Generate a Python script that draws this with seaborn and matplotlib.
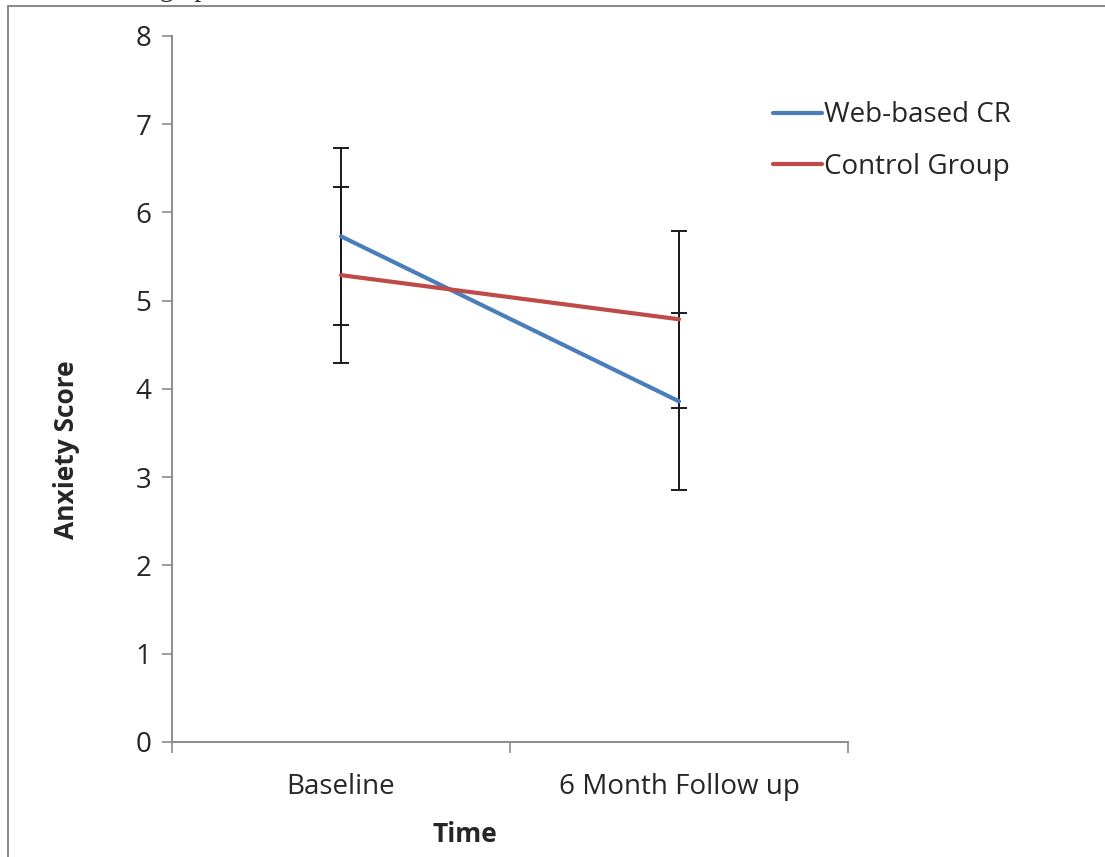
import numpy as np
import pandas as pd
import matplotlib
matplotlib.use("Agg")
import matplotlib.pyplot as plt
import seaborn as sns
from matplotlib.lines import Line2D

# data
time_points = ["Baseline", "6 Month Follow up"]
web_cr_mean = [5.73, 3.86]
web_cr_err = [1.0, 1.0]
control_mean = [5.29, 4.79]
control_err = [1.0, 1.0]
group_names = ["Web-based CR", "Control Group"]
group_colors = ["#4A7EBB", "#BE4B48"]

sns.set_style("white")
plt.rcParams['font.family'] = ['Open Sans', 'DejaVu Sans']

df = pd.DataFrame({
    "Time": time_points * 2,
    "Score": web_cr_mean + control_mean,
    "Err": web_cr_err + control_err,
    "Group": [group_names[0]] * 2 + [group_names[1]] * 2,
})

fig = plt.figure(figsize=(11.05, 8.57), dpi=100)
ax = fig.add_axes([0.1557, 0.1342, 0.6117, 0.8238])

# error bars first so lines sit on top
for g in group_names:
    sub = df[df["Group"] == g]
    ax.errorbar(sub["Time"], sub["Score"], yerr=sub["Err"], fmt="none",
                ecolor="#1a1a1a", elinewidth=1.4, capsize=5.5, capthick=1.4, zorder=2)

sns.lineplot(data=df, x="Time", y="Score", hue="Group", palette=group_colors,
             hue_order=group_names, linewidth=3.0, ax=ax, zorder=3, sort=False)

ax.set_xlim(-0.5, 1.5)
ax.set_ylim(0, 8)
ax.set_yticks(range(0, 9))
ax.tick_params(axis="y", labelsize=20, length=7, width=1.2, color="#8c8c8c",
               direction="out", left=True, pad=8)

# category boundaries as major ticks, labels as minor ticks
ax.set_xticks([-0.5, 0.5, 1.5])
ax.set_xticklabels([])
ax.set_xticks([0, 1], minor=True)
ax.set_xticklabels(time_points, minor=True)
ax.tick_params(axis="x", which="major", length=8, width=1.2, color="#8c8c8c",
               direction="out", bottom=True)
ax.tick_params(axis="x", which="minor", length=0, labelsize=20, pad=22)

for side in ["top", "right"]:
    ax.spines[side].set_visible(False)
for side in ["left", "bottom"]:
    ax.spines[side].set_color("#8c8c8c")
    ax.spines[side].set_linewidth(1.4)

ax.set_xlabel("Time", fontsize=19, fontweight="bold")
ax.set_ylabel("Anxiety Score", fontsize=19, fontweight="bold")
ax.xaxis.set_label_coords(0.433, -0.112)
ax.yaxis.set_label_coords(-0.136, 0.414)

leg = ax.legend(loc="upper left", bbox_to_anchor=(0.852, 0.943), frameon=False,
                fontsize=20, handlelength=1.75, handletextpad=0.1, labelspacing=0.85)
for h in leg.get_lines():
    h.set_linewidth(3.0)

# outer border (top and left visible in the reference)
fig.add_artist(Line2D([8 / 1105, 1.0], [1 - 6 / 857, 1 - 6 / 857], color="#8c8c8c", lw=1.5))
fig.add_artist(Line2D([8 / 1105, 8 / 1105], [0.0, 1 - 6 / 857], color="#8c8c8c", lw=1.5))
# clipped caption fragment above the chart
fig.text(0.125, 1.012, "ing up", family="Liberation Serif", fontsize=20, va="center")

fig.savefig("out.png", dpi=100)
